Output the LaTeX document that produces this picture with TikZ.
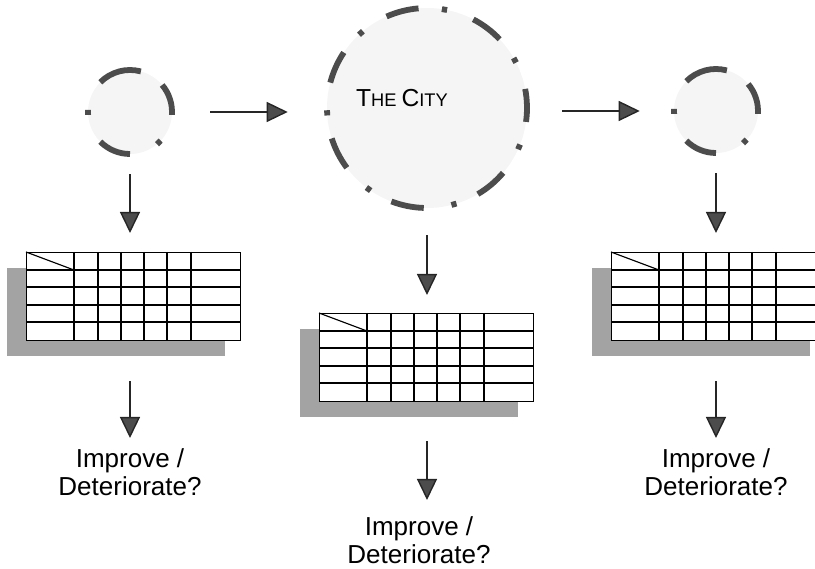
\documentclass[tikz,border=0pt]{standalone}
\usepackage{fontspec}
\setmainfont{Liberation Sans}
\usetikzlibrary{arrows.meta}
\tikzstyle{arrow} = [line width=1pt,black!85,-{Triangle[length=5.25mm,width=5mm,fill=black!70]}]
\tikzstyle{ring} = [line width=1.45mm,black!70]
\tikzstyle{blob} = [circle,fill=black!4,inner sep=0]
\tikzstyle{sheet} = [draw,fill=white,line width=0.8pt,inner sep=0,minimum width=53.5mm,minimum height=22mm]
\tikzstyle{answer} = [align=center,inner sep=0,anchor=north,font=\fontsize{18.5}{20}\selectfont]

% data sheet with its shadow, #2 is the top left corner
\newcommand{\datasheet}[2]{%
\begin{scope}[shift={#2}]
\fill[black!36] (-19,-104) rectangle (199,-16);
\node[sheet,anchor=north west] (#1) at (0,0) {};
\foreach \y in {18,35,53,70}
 \draw[line width=0.8pt] (0,-\y) -- (214,-\y);
\foreach \x in {48,72,95,118,141,165}
 \draw[line width=0.8pt] (\x,0) -- (\x,-88);
\draw[line width=0.8pt] (0,0) -- (48,-18);
\end{scope}}

\begin{document}
\begin{tikzpicture}[x=0.25mm,y=0.25mm]
\useasboundingbox (0,0) rectangle (815,569);
\clip (0,0) rectangle (815,569);

\node[blob,minimum size=21mm] (start) at (130,457) {};
\node[blob,minimum size=50mm] (city) at (427,461) {};
\node[blob,minimum size=21mm] (next) at (716,458) {};

\node[anchor=base] (citylabel) at (402,462) {\fontsize{17.5}{20}\selectfont T\fontsize{13}{15}\selectfont HE \fontsize{17.5}{20}\selectfont C\fontsize{13}{15}\selectfont ITY};

%broken rims, dashes and dots
\foreach \c in {start,next}
 \foreach \a/\b in {-4/40,75/135,177/184,225/270,310/317}
  \draw[ring] (\c.center) ++(\a:42) arc[start angle=\a,end angle=\b,radius=42];

\foreach \i [evaluate=\i as \t using -8+\i*360/7] in {0,...,6}
{
\draw[ring] (city.center) ++(\t:100) arc[start angle=\t,end angle=\t+19,radius=100];
\draw[ring] (city.center) ++({\t+35}:100) arc[start angle=\t+35,end angle=\t+38,radius=100];
}

\datasheet{tabstart}{(26,317)}
\datasheet{tabcity}{(319,256)}
\datasheet{tabnext}{(611,317)}

\node[answer] (verdictA) at (130,121) {Improve /\\Deteriorate?};
\node[answer] (verdictB) at (419,53) {Improve /\\Deteriorate?};
\node[answer] (verdictC) at (716,121) {Improve /\\Deteriorate?};

\draw[arrow,shorten <=9.5mm,shorten >=9.75mm] (start.east) -- (start.east -| city.west);
\draw[arrow,shorten <=8.75mm,shorten >=8.5mm] (city.east |- next.west) -- (next.west);

\draw[arrow,shorten <=5mm,shorten >=4.75mm] (start.south) -- (start.south |- tabstart.north);
\draw[arrow,shorten <=6.75mm,shorten >=4.5mm] (city.south) -- (city.south |- tabcity.north);
\draw[arrow,shorten <=5mm,shorten >=4.75mm] (next.south) -- (next.south |- tabnext.north);

\draw[arrow,shorten <=10mm,shorten >=2.5mm] (verdictA.north |- tabstart.south) -- (verdictA.north);
\draw[arrow,shorten <=9.75mm,shorten >=4mm] (city.south |- tabcity.south) -- (city.south |- verdictB.north);
\draw[arrow,shorten <=10mm,shorten >=2.5mm] (verdictC.north |- tabnext.south) -- (verdictC.north);

\end{tikzpicture}
\end{document}
